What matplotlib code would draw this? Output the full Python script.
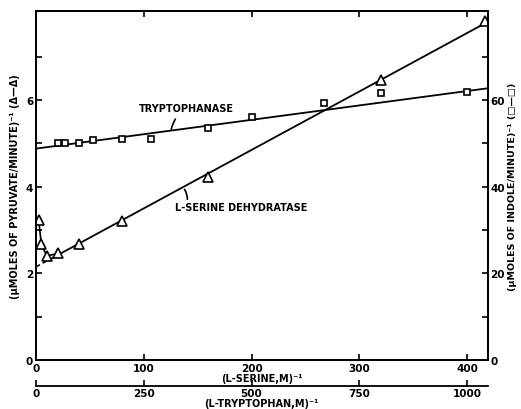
import numpy as np
import matplotlib

matplotlib.use("Agg")
from matplotlib import pyplot as plt

# L-serine dehydratase: x in (L-serine, M)^-1, y in (umoles pyruvate/min)^-1
serine_x = np.array([2.5, 5, 10, 20, 40, 80, 160, 320, 417])
serine_y = np.array([3.23, 2.68, 2.40, 2.46, 2.68, 3.22, 4.22, 6.47, 7.82])
serine_intercept = 2.15
serine_slope = 0.0135

# tryptophanase: x in (L-tryptophan, M)^-1, y in (umoles indole/min)^-1
trp_x = np.array([50, 66.7, 100, 133, 200, 267, 400, 500, 667, 800, 1000])
trp_y = np.array([50.2, 50.1, 50.2, 50.8, 51.1, 51.1, 53.5, 56.2, 59.3, 61.6, 61.9])
trp_intercept = 48.8
trp_slope = 0.0133

TRP_PER_SER = 2.5  # 250 on the tryptophan scale sits under 100 on the serine scale

plt.rcParams["font.family"] = "DejaVu Sans"
plt.rcParams["font.weight"] = "bold"
plt.rcParams["axes.linewidth"] = 1.3

fig = plt.figure(figsize=(5.21, 4.10), dpi=100)
ax = fig.add_axes([0.069, 0.1195, 0.867, 0.8515])
ax2 = ax.twinx()

xmax = 419
ax.set_xlim(0, xmax)
ax.set_ylim(0, 8.06)
ax2.set_ylim(0, 80.6)

# serine dehydratase fit: dashed extrapolation, solid line, and the curved low end
xs = np.array([0, 13])
ax.plot(xs, serine_intercept + serine_slope * xs, "k--", lw=1.1, dashes=(3, 2))
xs = np.array([13, serine_x[-1]])
ax.plot(xs, serine_intercept + serine_slope * xs, "k-", lw=1.3)
ax.plot(serine_x[:4], serine_y[:4], "k-", lw=1.2)
ax.plot(serine_x, serine_y, "^", ms=6.5, mfc="white", mec="black", mew=1.2)

# tryptophanase fit on the right axis
xt = np.array([0, xmax * TRP_PER_SER])
ax2.plot(xt / TRP_PER_SER, trp_intercept + trp_slope * xt, "k-", lw=1.3)
ax2.plot(trp_x / TRP_PER_SER, trp_y, "s", ms=5, mfc="white", mec="black", mew=1.2)

ax.annotate("TRYPTOPHANASE", xy=(125.5, 5.33), xytext=(139.7, 5.82),
            ha="center", va="center", fontsize=7, fontweight="bold",
            arrowprops=dict(arrowstyle="-", lw=1.2, color="black",
                            shrinkA=3, shrinkB=0, connectionstyle="arc3,rad=0.2"))
ax.annotate("L-SERINE DEHYDRATASE", xy=(137.8, 3.94), xytext=(190.5, 3.53),
            ha="center", va="center", fontsize=7, fontweight="bold",
            arrowprops=dict(arrowstyle="-", lw=1.2, color="black",
                            shrinkA=0, shrinkB=0,
                            relpos=(0.09, 1.0), connectionstyle="arc3,rad=0.2"))

tick_kw = dict(direction="in", length=4.5, width=1.2, labelsize=7.5)
ax.set_xticks([0, 100, 200, 300, 400])
ax.set_yticks([0, 2, 4, 6])
ax.set_yticks([1, 3, 5, 7], minor=True)
ax.tick_params(axis="both", which="both", top=True, **tick_kw)
ax.tick_params(axis="x", pad=2)
ax.tick_params(axis="y", pad=2)
ax2.set_yticks([0, 20, 40, 60])
ax2.set_yticks([10, 30, 50, 70], minor=True)
ax2.tick_params(axis="y", which="both", pad=2, **tick_kw)

ax.set_xlabel("(L-SERINE,M)⁻¹", fontsize=7, fontweight="bold", labelpad=0)
ax.set_ylabel("(μMOLES OF PYRUVATE/MINUTE)⁻¹ (Δ—Δ)", fontsize=7,
              fontweight="bold", labelpad=4)
ax2.set_ylabel("(μMOLES OF INDOLE/MINUTE)⁻¹ (□—□)", fontsize=6.8,
               fontweight="bold", rotation=90, labelpad=2)

sec = ax.secondary_xaxis(-0.075, functions=(lambda x: x * TRP_PER_SER,
                                            lambda x: x / TRP_PER_SER))
sec.set_xticks([0, 250, 500, 750, 1000])
sec.tick_params(axis="x", pad=1.5, **tick_kw)
sec.spines["bottom"].set_linewidth(1.3)
sec.set_xlabel("(L-TRYPTOPHAN,M)⁻¹", fontsize=7, fontweight="bold", labelpad=0)

fig.savefig("out.png", dpi=100)
